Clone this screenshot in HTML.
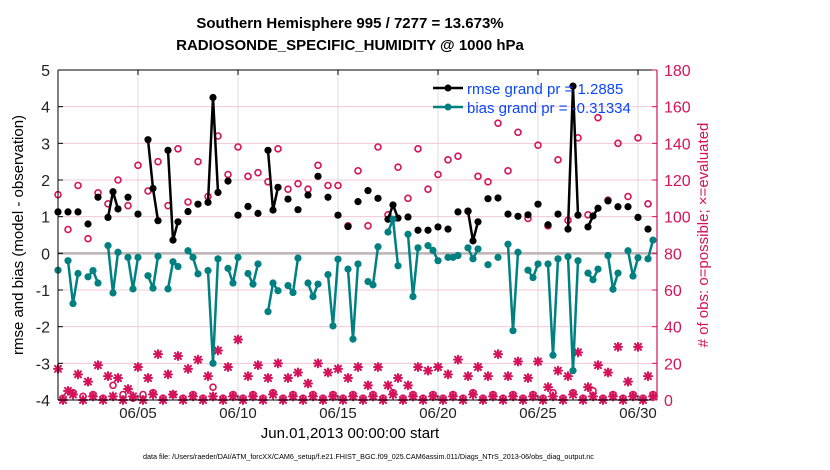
<!DOCTYPE html>
<html><head><meta charset="utf-8"><style>
html,body{margin:0;padding:0;background:#fff;}
svg{display:block;font-family:"Liberation Sans",Helvetica,Arial,sans-serif;}
</style></head><body>
<svg id="chart" width="830" height="470" viewBox="0 0 830 470" xmlns="http://www.w3.org/2000/svg">
<rect x="0" y="0" width="830" height="470" fill="#fff"/>
<text x="350" y="28" text-anchor="middle" font-size="15" font-weight="bold">Southern Hemisphere 995 / 7277 = 13.673%</text>
<text x="350" y="50" text-anchor="middle" font-size="15" font-weight="bold">RADIOSONDE_SPECIFIC_HUMIDITY @ 1000 hPa</text>
<g id="grid"></g>
<g id="marks"></g>
<g id="axes"></g>
<text transform="translate(23,235) rotate(-90)" text-anchor="middle" font-size="15">rmse and bias (model - observation)</text>
<text transform="translate(708,235) rotate(-90)" text-anchor="middle" font-size="15" fill="#d6125a"># of obs: o=possible; ×=evaluated</text>
<text x="350" y="438" text-anchor="middle" font-size="15">Jun.01,2013 00:00:00 start</text>
<text x="143" y="459" font-size="7.2">data file: /Users/raeder/DAI/ATM_forcXX/CAM6_setup/f.e21.FHIST_BGC.f09_025.CAM6assim.011/Diags_NTrS_2013-06/obs_diag_output.nc</text>
<g>
  <line x1="433" y1="88" x2="463" y2="88" stroke="#000" stroke-width="2.5"/>
  <circle cx="448" cy="88" r="3.5" fill="#000"/>
  <text x="467" y="94" font-size="15" fill="#0a46ff">rmse grand pr = 1.2885</text>
  <line x1="433" y1="107" x2="463" y2="107" stroke="#008080" stroke-width="2.5"/>
  <circle cx="448" cy="107" r="3.5" fill="#008080"/>
  <text x="467" y="113" font-size="15" fill="#0a46ff">bias grand pr = -0.31334</text>
</g>
</svg>
<script>
const rmse=[1.13,null,1.13,null,1.13,null,0.80,null,1.53,null,
0.98,1.68,1.21,null,1.53,null,1.07,null,3.10,1.77,
0.89,null,2.81,0.36,0.86,null,1.14,null,1.34,null,
1.39,4.25,1.66,null,1.97,null,1.04,null,1.28,null,
1.09,null,2.81,1.18,1.80,null,1.48,null,1.19,null,
1.59,null,2.10,null,1.53,null,1.04,null,0.73,null,
1.41,null,1.71,null,1.50,null,0.93,1.32,0.96,null,
0.99,null,0.63,null,0.63,null,0.72,null,0.66,null,
1.13,null,1.15,0.34,0.86,null,1.49,null,1.51,null,
1.07,null,1.01,null,1.05,null,1.34,null,0.78,null,
1.07,null,0.66,4.56,1.04,null,0.72,1.02,1.23,null,
1.43,null,1.27,null,1.27,null,0.98,null,0.66,null];
const bias=[-0.46,null,-0.20,-1.37,-0.55,null,-0.64,-0.47,-0.81,null,
0.21,-1.08,0.03,null,-0.11,-0.97,-0.11,null,-0.61,-0.95,
-0.08,null,-0.97,-0.23,-0.36,null,0.07,-0.11,-0.56,null,
-0.47,-3.0,-0.15,null,-0.41,-0.81,-0.11,null,-0.55,-0.84,
-0.29,null,-1.59,-0.81,-1.02,null,-0.88,-1.07,-0.13,null,
-0.81,-1.18,-0.84,null,-0.58,-1.98,-0.16,null,-0.43,-2.34,
-0.29,null,-0.77,-0.86,0.18,null,0.58,0.93,-0.34,null,
0.52,-1.18,0.15,null,0.21,0.08,-0.20,null,-0.11,-0.11,
-0.06,null,0.15,-0.15,0.12,null,-0.31,null,-0.11,null,
0.25,-2.11,0.03,null,-0.46,-0.66,-0.29,null,-0.29,-2.78,
-0.15,null,-0.09,-3.2,-0.20,null,-0.54,-0.72,-0.43,null,
-0.06,-0.98,-0.54,null,0.07,-0.62,-0.12,null,-0.15,0.36];
const possible=[112,1,93,4,117,2,88,3,113,1,
107,8,120,3,106,1,128,3,114,4,
130,1,106,3,137,1,108,3,130,1,
111,7,144,1,123,3,138,1,122,3,
124,1,119,4,137,1,115,3,118,1,
115,3,128,1,117,3,117,1,95,3,
125,1,95,3,138,1,101,4,127,1,
110,3,137,1,115,3,123,1,131,3,
133,1,103,4,122,1,119,3,151,1,
125,3,146,1,99,3,139,1,95,4,
131,1,98,4,143,1,101,5,154,1,
109,3,140,1,111,3,143,1,107,3];
const evaluated=[17,0,5,3,14,0,10,2,19,0,
13,2,12,0,6,2,18,0,12,3,
25,0,14,3,24,0,17,2,22,0,
13,2,27,0,18,2,33,0,13,2,
19,0,12,3,20,0,12,2,15,0,
9,2,20,0,15,2,17,0,12,2,
18,0,8,2,18,0,8,3,12,0,
8,2,18,0,16,2,18,0,14,2,
22,0,13,3,18,0,13,2,25,0,
13,2,21,0,12,2,21,0,7,2,
16,0,13,3,26,0,7,2,19,0,
15,2,29,0,10,2,29,0,13,2];
const leftTicks=[5,4,3,2,1,0,-1,-2,-3,-4];
const rightTicks=[180,160,140,120,100,80,60,40,20,0];
const xTickDays=[5,10,15,20,25,30];
const xTickLabels=["06/05","06/10","06/15","06/20","06/25","06/30"];

const X0=58,X1=657,Y0=70,Y1=400;
function xi(i){return X0+5*i;}
function xd(day){return X0+20*(day-1);}
function yL(v){return Y1-(v+4)*(Y1-Y0)/9;}
function yR(c){return Y1-c*(Y1-Y0)/180;}
const NS="http://www.w3.org/2000/svg";
function mk(tag,attrs,parent){const e=document.createElementNS(NS,tag);for(const k in attrs)e.setAttribute(k,attrs[k]);parent.appendChild(e);return e;}
const grid=document.getElementById('grid'),marks=document.getElementById('marks'),axes=document.getElementById('axes');
const RED="#d6125a";

leftTicks.forEach(v=>{
  if(v!==5&&v!==-4&&v!==0){const g=mk('line',{x1:X0,x2:X1,y1:yL(v),y2:yL(v),stroke:"#f2c8d6","stroke-width":1},grid);
  
  }
});
xTickDays.forEach(d=>{
  const g=mk('line',{x1:xd(d),x2:xd(d),y1:Y0,y2:Y1,stroke:"#dcdcdc","stroke-width":1},grid);
  
  
});
const zl=mk('line',{x1:X0,x2:X1,y1:yL(0),y2:yL(0),stroke:"#bdb3b6","stroke-width":2.5},grid);



possible.forEach((c,i)=>{if(c==null)return;
  const e=mk('circle',{cx:xi(i),cy:yR(c),r:3,fill:"none",stroke:RED,"stroke-width":1.6},marks);
  
  
});
evaluated.forEach((c,i)=>{if(c==null)return;
  const cx=xi(i),cy=yR(c);
  const g=mk('g',{stroke:RED,"stroke-width":2,"stroke-linecap":"round"},marks);
  
  
  mk('line',{x1:cx-4,x2:cx+4,y1:cy,y2:cy},g);
  mk('line',{x1:cx,x2:cx,y1:cy-4,y2:cy+4},g);
  mk('line',{x1:cx-3,x2:cx+3,y1:cy-3,y2:cy+3},g);
  mk('line',{x1:cx-3,x2:cx+3,y1:cy+3,y2:cy-3},g);
});
function series(arr,color,name){
  for(let i=0;i<arr.length-1;i++){
    if(arr[i]!=null&&arr[i+1]!=null){
      const l=mk('line',{x1:xi(i),y1:yL(arr[i]),x2:xi(i+1),y2:yL(arr[i+1]),stroke:color,"stroke-width":2.5},marks);
      
      
    }
  }
  arr.forEach((v,i)=>{if(v==null)return;
    const c=mk('circle',{cx:xi(i),cy:yL(v),r:3.6,fill:color},marks);
    
    
  });
}
series(rmse,"#000","rmse");
series(bias,"#008080","bias");

mk('line',{x1:X0,x2:X1,y1:Y0,y2:Y0,stroke:"#000","stroke-width":1},axes);
mk('line',{x1:X0,x2:X1,y1:Y1,y2:Y1,stroke:"#000","stroke-width":1},axes);
mk('line',{x1:X0,x2:X0,y1:Y0,y2:Y1,stroke:"#000","stroke-width":1},axes);
mk('line',{x1:X1,x2:X1,y1:Y0,y2:Y1,stroke:RED,"stroke-width":1.2},axes);
leftTicks.forEach(v=>{
  mk('line',{x1:X0,x2:X0+5,y1:yL(v),y2:yL(v),stroke:"#000"},axes);
  const t=mk('text',{x:X0-8,y:yL(v)+6,"text-anchor":"end","font-size":16,fill:"#222"},axes);
  t.textContent=v;
  
  
});
rightTicks.forEach(c=>{
  mk('line',{x1:X1-5,x2:X1,y1:yR(c),y2:yR(c),stroke:RED},axes);
  const t=mk('text',{x:X1+7,y:yR(c)+6,"font-size":16,fill:RED},axes);
  t.textContent=c;
  
  
});
xTickDays.forEach((d,k)=>{
  mk('line',{x1:xd(d),x2:xd(d),y1:Y1,y2:Y1-5,stroke:"#000"},axes);
  mk('line',{x1:xd(d),x2:xd(d),y1:Y0,y2:Y0+5,stroke:"#000"},axes);
  const t=mk('text',{x:xd(d),y:Y1+18,"text-anchor":"middle","font-size":15,fill:"#222"},axes);
  t.textContent=xTickLabels[k];
  
  
});
</script>
</body></html>
